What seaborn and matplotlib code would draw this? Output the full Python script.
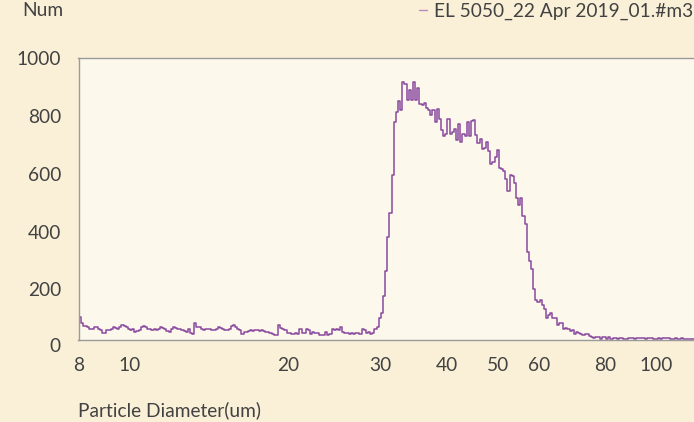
import numpy as np
import pandas as pd
import matplotlib
matplotlib.use("Agg")
import matplotlib.pyplot as plt
from matplotlib.ticker import NullLocator
import seaborn as sns

# counts per channel, log-spaced channels from 8 um to 118 um
low_counts = [
    105, 82, 74, 72, 70, 64, 64, 70, 68, 61, 58, 50, 49, 58, 60, 64, 70, 66, 64, 70,
    76, 74, 70, 64, 58, 64, 52, 56, 58, 70, 73, 70, 64, 62, 58, 64, 60, 64, 70, 66,
    61, 56, 52, 64, 70, 66, 64, 61, 58, 56, 52, 61, 49, 46, 82, 70, 70, 64, 58, 64,
    61, 61, 58, 58, 64, 70, 66, 64, 58, 60, 64, 73, 76, 70, 64, 58, 46, 52, 52, 54,
    58, 56, 58, 60, 56, 58, 56, 52, 52, 49, 46, 41, 41, 76, 66, 64, 58, 49, 49, 46,
    46, 49, 46, 64, 49, 49, 64, 59, 46, 52, 48, 48, 41, 41, 41, 52, 41, 46, 64, 58,
    64, 58, 70, 52, 49, 48, 46, 49, 45, 48, 49, 46, 64, 58, 48, 52, 46, 50, 64, 70,
]
peak_counts = [
    99, 117, 177, 262, 383, 463, 596, 780, 815, 852, 821, 919, 910, 855, 890, 855,
    917, 855, 899, 844, 838, 847, 827, 821, 803, 821, 780, 824, 792, 751, 733, 739,
    789, 739, 745, 757, 716, 774, 710, 739, 733, 780, 733, 782, 786, 735, 708, 721,
    686, 689, 710, 681, 634, 640, 657, 684, 622, 616, 610, 582, 541, 596, 591, 570,
    518, 491, 518, 454, 428, 328, 297, 270, 200, 162, 157, 162, 145, 130, 102, 111,
    119, 99, 102, 76,
]
tail_counts = [
    83, 83, 64, 66, 61, 56, 58, 46, 52, 48, 44, 41, 45, 46, 38, 36, 32, 35, 35, 29,
    33, 33, 29, 33, 29, 31, 30, 27, 30, 30, 27, 29, 30, 30, 30, 27, 30, 30, 30, 30,
    27, 30, 30, 30, 27, 27, 30, 27, 30, 30, 30, 30, 27, 27, 30, 27, 27, 30, 27, 27,
    27, 27, 27,
]
counts = low_counts + peak_counts + tail_counts

d_min, d_max = 8, 118
edges = np.geomspace(d_min, d_max, len(counts) + 1)
df = pd.DataFrame({'diameter': np.sqrt(edges[:-1] * edges[1:]), 'count': counts})

x_ticks = [8, 10, 20, 30, 40, 50, 60, 80, 100]
y_ticks = [200, 400, 600, 800, 1000]

sns.set_theme(style="white")
plt.rcParams['font.family'] = ['Lato', 'DejaVu Sans']

text_color = '#424242'
fs = 13.8
fig = plt.figure(figsize=(6.94, 4.22), dpi=100, facecolor='#faf0d8')
ax = fig.add_axes([78.5 / 694, 1 - 339.5 / 422, 1 - 78.5 / 694, 281 / 422])
ax.set_facecolor('#fcf8ec')

sns.histplot(data=df, x='diameter', weights='count', bins=edges.tolist(), element='step',
             fill=False, color='#8a4a9e', linewidth=1.1, ax=ax)

ax.set_xscale('log')
ax.set_xlim(d_min, d_max)
ax.set_ylim(26, 1000)
ax.xaxis.set_minor_locator(NullLocator())
ax.set_xticks(x_ticks)
ax.set_xticklabels([str(t) for t in x_ticks])
ax.set_yticks(y_ticks)
ax.tick_params(axis='both', length=0, labelsize=fs, labelcolor=text_color)
ax.tick_params(axis='x', pad=12.5)
ax.tick_params(axis='y', pad=12.5)
ax.set_xlabel('')
ax.set_ylabel('')

for side in ['left', 'bottom', 'top']:
    ax.spines[side].set_color('#9a9a9a')
    ax.spines[side].set_linewidth(1)
ax.spines['right'].set_visible(False)

# the zero label sits below the frame
fig.text(61 / 694, 1 - 346.7 / 422, '0', ha='right', va='center', fontsize=fs, color=text_color)
fig.text(22 / 694, 1 - 11 / 422, 'Num', ha='left', va='center', fontsize=fs, color=text_color)
fig.text(78 / 694, 1 - 410 / 422, 'Particle Diameter(um)', ha='left', va='center',
         fontsize=fs, color=text_color)
fig.text(693 / 694, 1 - 11 / 422, 'EL 5050_22 Apr 2019_01.#m3', ha='right', va='center',
         fontsize=fs, color=text_color)
fig.lines.append(plt.Line2D([419 / 694, 427 / 694], [1 - 10 / 422, 1 - 10 / 422],
                            transform=fig.transFigure, color='#b58bc0', linewidth=1))

fig.savefig('out.png', dpi=100, facecolor=fig.get_facecolor())
